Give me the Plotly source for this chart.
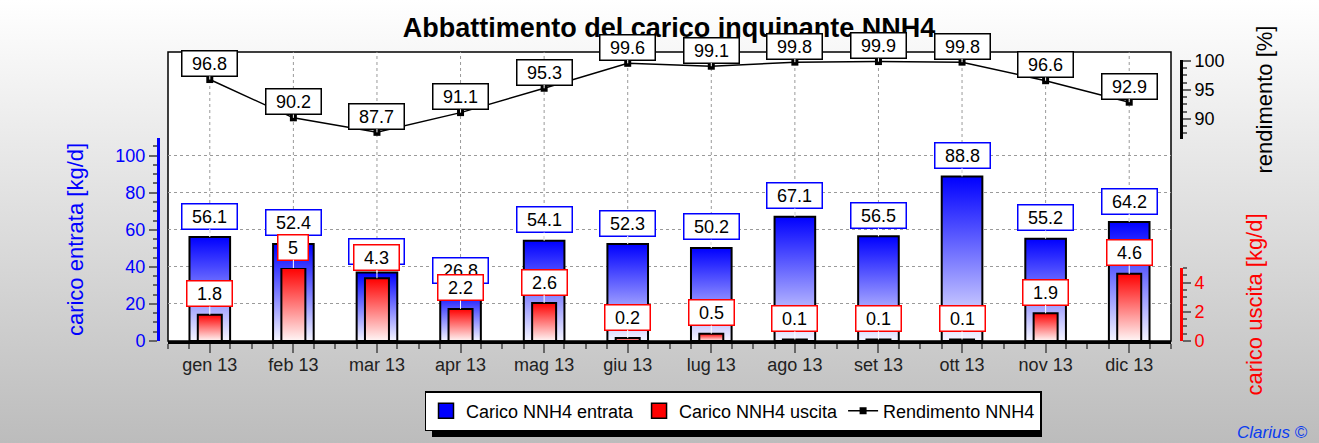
import base64
import plotly.graph_objects as go

months = ["gen 13", "feb 13", "mar 13", "apr 13", "mag 13", "giu 13",
          "lug 13", "ago 13", "set 13", "ott 13", "nov 13", "dic 13"]
entrata = [56.1, 52.4, 36.9, 26.8, 54.1, 52.3, 50.2, 67.1, 56.5, 88.8, 55.2, 64.2]
uscita = [1.8, 5.0, 4.3, 2.2, 2.6, 0.2, 0.5, 0.1, 0.1, 0.1, 1.9, 4.6]
rendimento = [96.8, 90.2, 87.7, 91.1, 95.3, 99.6, 99.1, 99.8, 99.9, 99.8, 96.6, 92.9]

W, H = 1319, 443
ML, MR, MT, MB = 150, 130, 52, 102
PW = W - ML - MR
PH = H - MT - MB
FONT = "Liberation Sans, Arial, sans-serif"
BLUE_W = 0.486
RED_W = 0.287


def fx(px):
    # pixel column -> paper x
    return (px - ML) / PW


def fy(py):
    # pixel row -> paper y
    return (H - MB - py) / PH


def box_w(s, size=18):
    return sum((0.278 if c == "." else 0.556) * size for c in s) + 17


def lab(v):
    return f"{v:g}"


fig = go.Figure()

# legend-only entries (square swatches)
fig.add_trace(go.Scatter(x=[None], y=[None], mode="markers", name="Carico NNH4 entrata",
                         marker=dict(symbol="square", size=15, color="#0000ff",
                                     line=dict(color="black", width=1.5))))
fig.add_trace(go.Scatter(x=[None], y=[None], mode="markers", name="Carico NNH4 uscita",
                         marker=dict(symbol="square", size=15, color="#ff0000",
                                     line=dict(color="black", width=1.5))))

# bars drawn as filled outlines so each one gets its own vertical gradient
for i, v in enumerate(entrata):
    x0, x1 = i - BLUE_W / 2, i + BLUE_W / 2
    fig.add_trace(go.Scatter(
        x=[x0, x0, x1, x1, x0], y=[0, v, v, 0, 0], yaxis="y2",
        mode="lines", fill="toself",
        fillgradient=dict(type="vertical", colorscale=[[0, "#f6f6ff"], [1, "#0000ff"]]),
        line=dict(color="black", width=2),
        showlegend=False, hoverinfo="skip"))

for i, v in enumerate(uscita):
    x0, x1 = i - RED_W / 2, i + RED_W / 2
    fig.add_trace(go.Scatter(
        x=[x0, x0, x1, x1, x0], y=[0, v, v, 0, 0], yaxis="y3",
        mode="lines", fill="toself",
        fillgradient=dict(type="vertical", colorscale=[[0, "#fff6f6"], [1, "#ff0000"]]),
        line=dict(color="black", width=2),
        showlegend=False, hoverinfo="skip"))

fig.add_trace(go.Scatter(
    x=list(range(len(months))), y=rendimento, yaxis="y4",
    mode="lines+markers", name="Rendimento NNH4",
    line=dict(color="black", width=1.5),
    marker=dict(symbol="square", size=7, color="black"),
    cliponaxis=False))

annotations = []


def add_labels(values, yref, color, shift):
    for i, v in enumerate(values):
        annotations.append(dict(
            x=i, y=v, xref="x", yref=yref, text=lab(v),
            showarrow=True, arrowhead=0, arrowwidth=1, arrowcolor="white",
            ax=0, ay=-shift,
            bgcolor="white", bordercolor=color, borderwidth=1.5, borderpad=1,
            width=box_w(lab(v)), height=22,
            font=dict(family=FONT, size=18, color="black")))


add_labels(rendimento, "y4", "black", 16)
add_labels(entrata, "y2", "#0000ff", 21)
add_labels(uscita, "y3", "#ff0000", 21)

annotations.append(dict(
    x=fx(1310), y=fy(432), xref="paper", yref="paper", xanchor="right", yanchor="middle",
    text="Clarius ©", showarrow=False,
    font=dict(family=FONT, size=17, color="#0a3cf0", style="italic")))

shapes = []
# plot frame
shapes.append(dict(type="rect", xref="x domain", yref="paper", x0=0, x1=1, y0=0, y1=1,
                   fillcolor="white", line=dict(color="black", width=1.5), layer="below"))
# vertical grid at category centres
for i in range(len(months)):
    shapes.append(dict(type="line", xref="x", yref="paper", x0=i, x1=i, y0=0, y1=1,
                       line=dict(color="#9a9a9a", width=1, dash="dot"), layer="below"))
# legend shadow
shapes.append(dict(type="rect", xref="paper", yref="paper",
                   x0=fx(432), x1=fx(1042), y0=fy(437), y1=fy(398),
                   fillcolor="black", line=dict(width=0), layer="below"))

minor_x = []
for i in range(len(months)):
    minor_x += [i - 0.5, i - BLUE_W / 2, i + BLUE_W / 2]
minor_x.append(len(months) - 0.5)

svg = ('<svg xmlns="http://www.w3.org/2000/svg" width="10" height="100" '
       'viewBox="0 0 10 100" preserveAspectRatio="none"><defs>'
       '<linearGradient id="g" x1="0" y1="0" x2="0" y2="1">'
       '<stop offset="0" stop-color="#ffffff"/><stop offset="1" stop-color="#bcbcbc"/>'
       '</linearGradient></defs><rect width="10" height="100" fill="url(#g)"/></svg>')
bg_src = "data:image/svg+xml;base64," + base64.b64encode(svg.encode()).decode()

tick_gray = "#666666"

fig.update_layout(
    width=W, height=H,
    margin=dict(l=ML, r=MR, t=MT, b=MB, autoexpand=False),
    paper_bgcolor="white",
    plot_bgcolor="rgba(0,0,0,0)",
    font=dict(family=FONT, size=17, color="black"),
    title=dict(text="<b>Abbattimento del carico inquinante NNH4</b>",
               x=669 / W, xanchor="center", y=1 - 28 / H, yanchor="middle",
               font=dict(family=FONT, size=27, color="black")),
    images=[dict(source=bg_src, xref="paper", yref="paper",
                 x=-ML / PW, y=1 + MT / PH, sizex=W / PW, sizey=H / PH,
                 xanchor="left", yanchor="top", sizing="stretch", layer="below")],
    xaxis=dict(
        domain=[fx(168), fx(1171)], range=[-0.5, len(months) - 0.5], anchor="y",
        tickmode="array", tickvals=list(range(len(months))), ticktext=months,
        ticks="outside", ticklen=9, tickwidth=1.5, tickcolor=tick_gray,
        tickfont=dict(size=18, color="#222222"), ticklabelstandoff=-4,
        showline=True, linecolor="black", linewidth=3,
        showgrid=False, zeroline=False,
        minor=dict(tickmode="array", tickvals=minor_x, ticks="outside",
                   ticklen=5, tickwidth=1.5, tickcolor=tick_gray, showgrid=False)),
    yaxis=dict(domain=[0, 1], range=[0, 1], visible=False, fixedrange=True),
    yaxis2=dict(
        domain=[0, fy(138)], range=[0, 109.55], anchor="free", position=fx(158), side="left",
        tick0=0, dtick=20, ticks="outside", ticklen=8, tickwidth=1.5, tickcolor=tick_gray,
        tickfont=dict(size=18, color="#0000ff"),
        showline=True, linecolor="#0000ff", linewidth=3,
        showgrid=True, gridcolor="#9a9a9a", griddash="dot", gridwidth=1, zeroline=False,
        minor=dict(dtick=5, ticks="outside", ticklen=4, tickwidth=1.5, tickcolor=tick_gray),
        title=dict(text="carico entrata [kg/d]", font=dict(size=22, color="#0000ff"), standoff=24),
        automargin=False),
    yaxis3=dict(
        domain=[0, fy(268)], range=[0, 5], anchor="free", position=fx(1181), side="right",
        tick0=0, dtick=2, ticks="outside", ticklen=8, tickwidth=1.5, tickcolor=tick_gray,
        tickfont=dict(size=18, color="#ff0000"),
        showline=True, linecolor="#ff0000", linewidth=3,
        showgrid=False, zeroline=False,
        minor=dict(dtick=0.5, ticks="outside", ticklen=4, tickwidth=1.5, tickcolor=tick_gray),
        title=dict(text="carico uscita [kg/d]", font=dict(size=22, color="#ff0000"), standoff=42),
        automargin=False),
    yaxis4=dict(
        domain=[fy(139), fy(60)], range=[86.55, 100.17], anchor="free", position=fx(1181),
        side="right",
        tick0=0, dtick=5, ticks="outside", ticklen=8, tickwidth=1.5, tickcolor=tick_gray,
        tickfont=dict(size=18, color="black"),
        showline=True, linecolor="black", linewidth=3,
        showgrid=False, zeroline=False,
        minor=dict(dtick=1.25, ticks="outside", ticklen=4, tickwidth=1.5, tickcolor=tick_gray),
        title=dict(text="rendimento [%]", font=dict(size=22, color="black"), standoff=32),
        automargin=False),
    showlegend=True,
    legend=dict(orientation="h", x=fx(733), xanchor="center", y=fy(391), yanchor="top",
                bgcolor="white", bordercolor="black", borderwidth=1.5,
                font=dict(family=FONT, size=18, color="black")),
    annotations=annotations,
    shapes=shapes,
)

# page body margin would push the fixed-size figure off by 8px
fig.write_html("out.html", config={"displayModeBar": False},
               post_script="document.body.style.margin='0';")
